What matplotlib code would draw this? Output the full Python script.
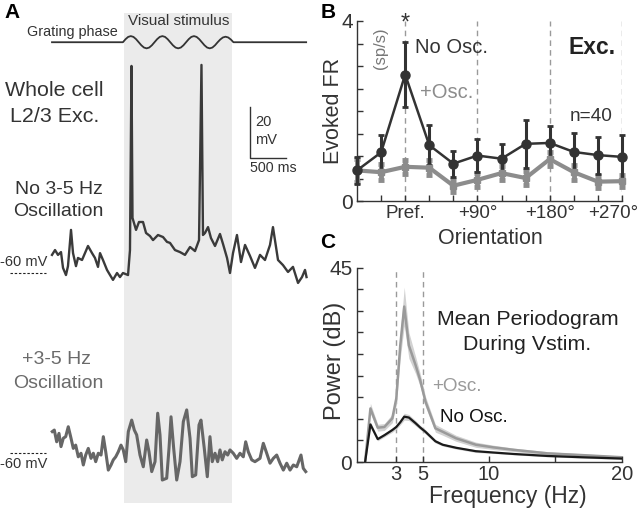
import numpy as np
import matplotlib
matplotlib.use("Agg")
import matplotlib.pyplot as plt
import matplotlib.transforms as mtransforms

plt.rcParams["font.family"] = ["Liberation Sans", "DejaVu Sans"]

W, H = 640, 509
DARK = "#333333"
GREY_TXT = "#6a6a6a"

# ---- panel A: example whole-cell traces (time in ms, Vm in mV)
t_no_osc = [0, 42, 83, 125, 153, 194, 222, 264, 292, 333,
            361, 417, 458, 500, 556, 597, 639, 667, 708, 764,
            806, 847, 903, 944, 986, 1056, 1083, 1104, 1118, 1167,
            1208, 1264, 1306, 1361, 1403, 1472, 1542, 1597, 1639, 1708,
            1778, 1847, 1917, 1986, 2042, 2076, 2097, 2125, 2167, 2208,
            2264, 2333, 2375, 2431, 2472, 2514, 2569, 2625, 2681, 2750,
            2819, 2889, 2958, 3028, 3069, 3139, 3208, 3278, 3347, 3417,
            3472, 3514, 3535]
v_no_osc = [-52.9, -51.0, -52.9, -51.8, -58.0, -60.8, -57.3, -43.1, -52.2, -57.3,
            -54.1, -54.9, -52.2, -49.4, -52.2, -54.1, -57.6, -52.2, -54.9, -58.8,
            -60.8, -62.7, -60.0, -61.6, -60.0, -60.8, -51.0, 21.2, -38.4, -43.1,
            -40.0, -40.0, -44.3, -45.5, -47.1, -45.1, -45.9, -47.8, -48.2, -51.0,
            -51.8, -52.9, -49.8, -51.4, -47.1, 21.6, -45.1, -44.3, -42.0, -46.3,
            -49.4, -44.7, -48.6, -54.1, -60.0, -52.2, -45.1, -55.7, -49.0, -53.3,
            -58.0, -52.9, -54.9, -49.0, -42.0, -54.9, -56.9, -59.6, -57.6, -63.9,
            -61.6, -58.8, -61.6]

t_osc = [4, 32, 65, 97, 125, 157, 190, 226, 264, 296,
         329, 365, 403, 435, 468, 504, 542, 574, 607, 643,
         681, 713, 746, 782, 820, 851, 885, 921, 958, 990,
         1024, 1060, 1107, 1143, 1176, 1222, 1268, 1315, 1347, 1385,
         1431, 1468, 1500, 1532, 1593, 1625, 1653, 1690, 1732, 1778,
         1824, 1871, 1917, 1949, 1996, 2042, 2069, 2115, 2157, 2194,
         2226, 2264, 2301, 2333, 2365, 2403, 2440, 2472, 2518, 2565,
         2611, 2657, 2690, 2726, 2774, 2819, 2889, 2935, 2982, 3028,
         3074, 3121, 3167, 3213, 3260, 3306, 3352, 3399, 3458, 3490,
         3524]
v_osc = [-51.6, -51.0, -55.6, -52.3, -57.5, -54.2, -53.6, -49.7, -54.2, -58.2,
         -56.9, -61.5, -60.1, -64.7, -60.8, -58.2, -62.1, -60.1, -63.4, -60.1,
         -60.8, -53.6, -59.5, -66.7, -64.7, -62.7, -61.5, -59.5, -56.9, -58.8,
         -63.4, -51.6, -47.1, -51.0, -52.9, -60.8, -65.4, -54.9, -59.5, -67.3,
         -63.4, -44.4, -52.9, -70.6, -69.9, -58.2, -45.8, -58.2, -70.6, -63.4,
         -47.7, -43.1, -54.2, -69.3, -68.6, -49.0, -47.1, -58.2, -69.3, -53.6,
         -63.4, -60.1, -63.4, -58.8, -62.7, -59.5, -60.8, -58.8, -60.1, -62.1,
         -60.1, -61.5, -55.6, -59.5, -62.7, -63.4, -62.1, -56.2, -60.1, -64.0,
         -62.1, -60.8, -64.0, -66.7, -64.0, -66.7, -64.7, -65.4, -60.8, -66.0,
         -67.3]

stim_on, stim_off = 1000, 2500
trace_end = 3530
# grating phase (schematic), 3.5 cycles during the stimulus
grating_phase = [0, 0.5, 0.87, 1, 0.87, 0.5, 0, -0.5, -0.87, -1, -0.87, -0.5,
                 0, 0.5, 0.87, 1, 0.87, 0.5, 0, -0.5, -0.87, -1, -0.87, -0.5,
                 0, 0.5, 0.87, 1, 0.87, 0.5, 0, -0.5, -0.87, -1, -0.87, -0.5,
                 0, 0.45, 0.78, 0.9, 0.78, 0.45, 0]

# ---- panel B: evoked firing rate tuning (sp/s)
orientations = [-60, -30, 0, 30, 60, 90, 120, 150, 180, 210, 240, 270]
fr_no_osc = [0.68, 1.08, 2.81, 1.24, 0.83, 1.01, 0.94, 1.27, 1.29, 1.09, 1.02, 0.98]
fr_no_osc_err = [0.30, 0.39, 0.72, 0.44, 0.29, 0.37, 0.32, 0.54, 0.37, 0.43, 0.41, 0.48]
fr_osc = [0.68, 0.64, 0.76, 0.74, 0.34, 0.47, 0.62, 0.51, 0.93, 0.64, 0.43, 0.44]
fr_osc_err = [0.25, 0.18, 0.15, 0.17, 0.13, 0.15, 0.15, 0.15, 0.16, 0.17, 0.13, 0.13]
ori_labels = ["Pref.", "+90\u00b0", "+180\u00b0", "+270\u00b0"]

# ---- panel C: mean periodogram during the stimulus (dB)
freqs = [0.65, 1.05, 1.6, 2.1, 2.7, 3.0, 3.3, 3.6, 3.95, 4.45, 4.8,
         5.2, 5.95, 6.5, 7.5, 9.0, 10.3, 11.9, 14.4, 17.0, 20.0]
pow_no_osc = [0, 8.7, 5.3, 6.2, 7.4, 8.1, 9.2, 10.5, 10.3, 9.0, 8.0,
              7.0, 4.8, 4.0, 3.3, 2.5, 2.2, 1.85, 1.4, 1.1, 0.8]
pow_no_osc_sem = [0, 0.6, 0.4, 0.4, 0.5, 0.5, 0.6, 0.8, 0.7, 0.6, 0.5,
                  0.5, 0.4, 0.3, 0.3, 0.3, 0.2, 0.2, 0.2, 0.2, 0.2]
pow_osc = [0, 12.4, 7.95, 8.1, 10.1, 14.7, 27.0, 36.0, 27.0, 22.5, 19.0,
           14.0, 7.8, 7.0, 5.5, 4.0, 3.4, 2.8, 2.0, 1.6, 1.1]
pow_osc_sem = [0, 1.2, 0.8, 0.8, 1.0, 1.5, 3.0, 4.5, 3.0, 2.0, 1.5,
               1.2, 0.9, 0.8, 0.7, 0.6, 0.5, 0.4, 0.4, 0.3, 0.3]


def fx(x):
    return x / W


def fy(y):
    return 1 - y / H


fig = plt.figure(figsize=(W / 100, H / 100), dpi=100)

# ============ A ============
MS_PER_PX = 500 / 36
PX_PER_MV = 2.55
OSC_OFFSET = -180 / PX_PER_MV   # second trace drawn lower down

axA = fig.add_axes([0, 0, 0.5, 1])
axA.set_xlim(-52 * MS_PER_PX, (320 - 52) * MS_PER_PX)
axA.set_ylim(-60 - (509 - 273) / PX_PER_MV, -60 + 273 / PX_PER_MV)
axA.axis("off")

axA.axvspan(stim_on, stim_off, ymin=1 - 503 / H, ymax=1 - 13 / H,
            color="#ebebeb", lw=0, zorder=0)

g_level, g_amp = 30.5, 2.4
g_t = np.linspace(stim_on - 15, stim_off + 20, len(grating_phase))
g_tt = np.concatenate([[0], g_t, [trace_end]])
g_yy = np.concatenate([[0], grating_phase, [0]])
axA.plot(g_tt, g_level + g_amp * g_yy, color=DARK, lw=1.3)

axA.plot(t_no_osc, v_no_osc, color="#3a3a3a", lw=1.7)
axA.plot(t_osc, np.array(v_osc) + OSC_OFFSET, color="#666666", lw=2.2)

# -60 mV markers
for off in (0, OSC_OFFSET):
    axA.plot([-583, -83], [-60 + off, -60 + off], color="#222222", lw=0.8,
             ls=(0, (2.2, 1.6)))

# scale bar 20 mV / 500 ms
sb_t, sb_v = 2750, -14.9
axA.plot([sb_t, sb_t, sb_t + 500], [sb_v + 20, sb_v, sb_v], color=DARK, lw=1.0)

fig.text(fx(4), fy(12), "A", fontsize=15, fontweight="bold", va="center")
fig.text(fx(72), fy(32), "Grating phase", fontsize=10.4, color=DARK, ha="center", va="center")
fig.text(fx(179), fy(21), "Visual stimulus", fontsize=11, color=DARK, ha="center", va="center")
fig.text(fx(54), fy(91), "Whole cell", fontsize=15.4, color=DARK, ha="center", va="center")
fig.text(fx(55), fy(117), "L2/3 Exc.", fontsize=15.4, color=DARK, ha="center", va="center")
fig.text(fx(59), fy(190), "No 3-5 Hz", fontsize=14, color=DARK, ha="center", va="center")
fig.text(fx(58), fy(212), "Oscillation", fontsize=14, color=DARK, ha="center", va="center")
fig.text(fx(56), fy(360), "+3-5 Hz", fontsize=14, color=GREY_TXT, ha="center", va="center")
fig.text(fx(58), fy(384), "Oscillation", fontsize=14, color=GREY_TXT, ha="center", va="center")
fig.text(fx(255), fy(122), "20", fontsize=10.5, color=DARK, va="center")
fig.text(fx(255), fy(140), "mV", fontsize=10.5, color=DARK, va="center")
fig.text(fx(250), fy(168), "500 ms", fontsize=10.3, color=DARK, va="center")
fig.text(fx(0), fy(262), "-60 mV", fontsize=10.5, color=DARK, va="center")
fig.text(fx(0), fy(464), "-60 mV", fontsize=10.5, color=DARK, va="center")


def style_axes(ax):
    for s in ("top", "right"):
        ax.spines[s].set_visible(False)
    for s in ("left", "bottom"):
        ax.spines[s].set_color(DARK)
        ax.spines[s].set_linewidth(1.0)
    ax.tick_params(direction="in", length=4, width=1, color=DARK,
                   labelcolor=DARK, pad=3)


# ============ B ============
axB = fig.add_axes([fx(357), fy(201), (622 - 357) / W, 180 / H])
axB.set_xlim(-60, 270)
axB.set_ylim(0, 4)
style_axes(axB)
for x in (0, 90, 180, 270):
    axB.axvline(x, color="#9a9a9a", lw=1, ls=(0, (4, 3)), zorder=0)

eb1 = axB.errorbar(orientations, fr_osc, yerr=fr_osc_err, color="#8c8c8c",
                   lw=3, elinewidth=3.5, capsize=2.5, capthick=3.5,
                   marker="s", ms=4)
eb2 = axB.errorbar(orientations, fr_no_osc, yerr=fr_no_osc_err, color="#333333",
                   lw=1.8, elinewidth=2.2, capsize=2.5, capthick=2,
                   marker="o", ms=6.5)
for eb in (eb1, eb2):
    for art in eb.get_children():
        art.set_clip_on(False)

axB.set_yticks(np.arange(0, 4.01, 0.5))
axB.set_yticklabels(["0", "", "", "", "", "", "", "", "4"], fontsize=15)
axB.set_xticks(orientations[1:])
axB.set_xticklabels(["", ori_labels[0], "", "", ori_labels[1], "", "",
                     ori_labels[2], "", "", ori_labels[3]], fontsize=13.6)
# the last label sits against the right edge of the figure
last = axB.get_xticklabels()[-1]
last.set_transform(last.get_transform() +
                   mtransforms.ScaledTranslation(-9 / 100, 0, fig.dpi_scale_trans))
axB.set_ylabel("Evoked FR", fontsize=15.5, color=DARK)
axB.yaxis.set_label_coords((344 - 357) / (622 - 357), 0.5)
axB.set_xlabel("Orientation", fontsize=15.5, color=DARK)
axB.xaxis.set_label_coords((490 - 357) / (622 - 357), (201 - 228) / 180)

axB.text(0, 3.95, "*", fontsize=17, ha="center", va="center", color=DARK)
axB.text(12, 3.42, "No Osc.", fontsize=14.5, color=DARK, va="center")
axB.text(18, 2.42, "+Osc.", fontsize=14.5, color="#8c8c8c", va="center")
axB.text(-31, 3.4, "(sp/s)", fontsize=12, color="#777777", rotation=90,
         ha="center", va="center")
axB.text(203, 3.4, "Exc.", fontsize=16.5, fontweight="bold", color="#222222", va="center")
axB.text(205, 1.87, "n=40", fontsize=13.7, color=DARK, va="center")
fig.text(fx(321), fy(12), "B", fontsize=15, fontweight="bold", va="center")

# ============ C ============
axC = fig.add_axes([fx(356.5), fy(462), 265.2 / W, 194.3 / H])
axC.set_xlim(0, 20)
axC.set_ylim(0, 45)
style_axes(axC)
axC.tick_params(axis="x", pad=2)
for x in (3, 5):
    axC.axvline(x, color="#9a9a9a", lw=1, ls=(0, (4, 3)), zorder=0)

po = np.array(pow_osc)
pos = np.array(pow_osc_sem)
pn = np.array(pow_no_osc)
pns = np.array(pow_no_osc_sem)
axC.fill_between(freqs, po - pos, po + pos, color="#d2d2d2", lw=0)
axC.plot(freqs, po, color="#9a9a9a", lw=1.8)
axC.fill_between(freqs, pn - pns, pn + pns, color="#d2d2d2", lw=0)
axC.plot(freqs, pn, color="#1a1a1a", lw=1.6)

axC.set_yticks(np.arange(0, 45.1, 5))
axC.set_yticklabels(["0"] + [""] * 8 + ["45"], fontsize=15)
axC.set_xticks([3, 5, 10, 15, 20])
axC.set_xticklabels(["3", "5", "10", "", "20"], fontsize=14.5)
axC.set_ylabel("Power (dB)", fontsize=17, color=DARK)
axC.yaxis.set_label_coords((346 - 356.5) / 265.2, 0.52)
axC.set_xlabel("Frequency (Hz)", fontsize=16.5, color=DARK)
axC.xaxis.set_label_coords((508 - 356.5) / 265.2, (462 - 485) / 194.3)

axC.text(12.9, 33.0, "Mean Periodogram", fontsize=15.4, color="#222222",
         ha="center", va="center")
axC.text(12.9, 27.1, "During Vstim.", fontsize=15.4, color="#222222",
         ha="center", va="center")
axC.text(5.7, 17.4, "+Osc.", fontsize=13.6, color="#9a9a9a", va="center")
axC.text(6.3, 10.4, "No Osc.", fontsize=13.6, color="#111111", va="center")
fig.text(fx(320), fy(243), "C", fontsize=15, fontweight="bold", va="center")

fig.savefig("out.png", dpi=100)
